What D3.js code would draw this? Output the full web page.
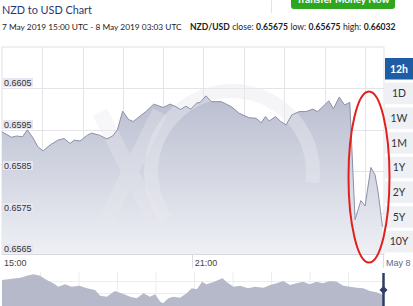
<!DOCTYPE html>
<html><head><meta charset="utf-8">
<script src="https://cdn.jsdelivr.net/npm/d3@7"></script>
<style>
html,body{margin:0;padding:0;background:#fff;}
svg{display:block;}
</style></head>
<body>
<svg id="c" width="413" height="306"></svg>
<script>
// ---------- data ----------
const titleText = "NZD to USD Chart";
const rangeText = "7 May 2019 15:00 UTC - 8 May 2019 03:03 UTC";
const statsParts = [["NZD/USD", true], ["close:", false], ["0.65675", true], ["low:", false], ["0.65675", true], ["high:", false], ["0.66032", true]];
const periodButtons = ["12h", "1D", "1W", "1M", "1Y", "2Y", "5Y", "10Y"];
const selectedPeriod = "12h";
const yTickValues = [0.6565, 0.6575, 0.6585, 0.6595, 0.6605];
const xTickLabels = ["15:00", "21:00", "May 8"];
const xTickMinutes = [0, 360, 723];
// minutes after 7 May 2019 15:00 UTC
const minutes = [0, 18, 28, 39, 48, 59, 68, 78, 91, 106, 118, 129, 137, 148, 162, 170, 185, 199, 210, 219, 229, 240, 249, 262, 273, 288, 306, 319, 328, 339, 349, 358, 370, 376, 387, 397, 416, 435, 450, 469, 482, 492, 500, 507, 519, 529, 539, 550, 564, 577, 590, 599, 609, 620, 629, 640, 650, 660, 670, 681, 689, 700, 708, 714, 722];
const rates = [0.65945, 0.65932, 0.65935, 0.65933, 0.65950, 0.65930, 0.65909, 0.65899, 0.65913, 0.65925, 0.65929, 0.65917, 0.65925, 0.65923, 0.65937, 0.65942, 0.65937, 0.65928, 0.65935, 0.65950, 0.65995, 0.65975, 0.65970, 0.65983, 0.65994, 0.66012, 0.66004, 0.66012, 0.66007, 0.65999, 0.66007, 0.66000, 0.66015, 0.66016, 0.66032, 0.66018, 0.66018, 0.66006, 0.65990, 0.65979, 0.65978, 0.65967, 0.65982, 0.65971, 0.65982, 0.65970, 0.65962, 0.65986, 0.65994, 0.65994, 0.66000, 0.65994, 0.66006, 0.66020, 0.66001, 0.66029, 0.66010, 0.66016, 0.65733, 0.65779, 0.65766, 0.65859, 0.65841, 0.65797, 0.65716];
// navigator (one year overview), week index and rate
const navWeeks = [0, 1.1, 2.5, 3.4, 4.3, 5.2, 6.1, 7.0, 7.7, 8.6, 9.5, 10.6, 11.6, 12.7, 13.4, 14.3, 15.4, 16.3, 17.5, 18.4, 19.3, 20.2, 20.9, 21.6, 22.0, 22.7, 23.4, 24.3, 25.2, 25.9, 26.6, 27.3, 27.9, 28.8, 29.5, 30.1, 30.7, 31.6, 32.5, 33.6, 34.5, 35.7, 36.6, 37.5, 38.4, 39.3, 40.2, 41.1, 42.0, 42.9, 43.8, 44.8, 45.7, 46.6, 47.5, 48.4, 49.3, 50.2, 51.1, 52];
const navRates = [0.6750, 0.6760, 0.6773, 0.6793, 0.6807, 0.6793, 0.6750, 0.6717, 0.6683, 0.6707, 0.6683, 0.6693, 0.6667, 0.6650, 0.6593, 0.6583, 0.6640, 0.6617, 0.6583, 0.6567, 0.6617, 0.6583, 0.6607, 0.6533, 0.6517, 0.6567, 0.6583, 0.6573, 0.6617, 0.6667, 0.6657, 0.6733, 0.6707, 0.6727, 0.6750, 0.6767, 0.6727, 0.6683, 0.6693, 0.6667, 0.6683, 0.6673, 0.6700, 0.6717, 0.6740, 0.6700, 0.6717, 0.6733, 0.6707, 0.6733, 0.6717, 0.6740, 0.6733, 0.6693, 0.6683, 0.6673, 0.6667, 0.6640, 0.6627, 0.6600];

// ---------- layout ----------
const svg = d3.select("#c");
const plot = {l: 2, r: 383, t: 47, b: 254};
const t0 = new Date(Date.UTC(2019, 4, 7, 15, 0));
const tAt = m => d3.utcMinute.offset(t0, m);
const x = d3.scaleUtc().domain([t0, tAt(723)]).range([plot.l, plot.r]);
const y = d3.scaleLinear().domain([0.6565, 0.6615]).range([plot.b, plot.t]);
const data = minutes.map((m, i) => ({t: tAt(m), v: rates[i]}));
const sansUI = "Lato, 'Open Sans', sans-serif";
const sansNarrow = "'Liberation Sans Narrow', Lato, sans-serif";

// fit a text's font size so its natural width equals target
function fitSize(sel, base, target) {
  sel.attr("font-size", base);
  const w = sel.node().getComputedTextLength();
  sel.attr("font-size", base * target / w);
}

const defs = svg.append("defs");
const grad = defs.append("linearGradient").attr("id", "ag")
  .attr("gradientUnits", "userSpaceOnUse").attr("x1", 0).attr("x2", 0).attr("y1", 95).attr("y2", plot.b);
grad.append("stop").attr("offset", 0).attr("stop-color", "#b9bdcf");
grad.append("stop").attr("offset", 1).attr("stop-color", "#eef0f5");

// header
const title = svg.append("text").attr("x", 2).attr("y", 13.5).text(titleText)
  .attr("font-family", sansUI).attr("fill", "#1d3a78");
fitSize(title, 14, 90);
svg.append("line").attr("x1", 271.5).attr("x2", 271.5).attr("y1", 0).attr("y2", 13).attr("stroke", "#e3e3e3");
svg.append("rect").attr("x", 291).attr("y", -8).attr("width", 104).attr("height", 17).attr("rx", 3).attr("fill", "#2fa61f");
svg.append("text").attr("x", 343).attr("y", 3).attr("text-anchor", "middle").text("Transfer Money Now")
  .attr("font-family", sansUI).attr("font-weight", "bold").attr("font-size", 10).attr("fill", "#fff");

const sub = svg.append("text").attr("x", 2).attr("y", 30).text(rangeText)
  .attr("font-family", sansNarrow).attr("fill", "#222");
fitSize(sub, 10.5, 180);

// stats: separate text pieces laid out left to right over 190..396
const stG = svg.append("g");
const pieces = statsParts.map(([s, b]) => stG.append("text").text(s)
  .attr("font-family", sansNarrow).attr("font-size", 10.5).attr("fill", "#222")
  .attr("font-weight", b ? "bold" : "normal").attr("y", 30));
const gap = 3;
let widths = pieces.map(p => p.node().getComputedTextLength());
const k = 206 / (d3.sum(widths) + gap * (pieces.length - 1));
pieces.forEach(p => p.attr("font-size", 10.5 * k));
widths = pieces.map(p => p.node().getComputedTextLength());
let cx = 190;
pieces.forEach((p, i) => { p.attr("x", cx); cx += widths[i] + gap * k; });

// plot background and grid
svg.append("rect").attr("x", plot.l).attr("y", plot.t).attr("width", plot.r - plot.l + 1).attr("height", plot.b - plot.t)
  .attr("fill", "#fff").attr("stroke", "#e2e2e6");
const gridMins = d3.range(1, 10).map(i => i * 76.5);
svg.append("g").selectAll("line").data(gridMins).join("line")
  .attr("x1", d => Math.round(x(tAt(d))) + 0.5).attr("x2", d => Math.round(x(tAt(d))) + 0.5)
  .attr("y1", plot.t).attr("y2", plot.b).attr("stroke", "#e4e4e8");
svg.append("g").selectAll("line").data(yTickValues).join("line")
  .attr("x1", plot.l).attr("x2", plot.r + 1)
  .attr("y1", d => Math.round(y(d)) + 0.5).attr("y2", d => Math.round(y(d)) + 0.5).attr("stroke", "#e4e4e8");

// area
const area = d3.area().x(d => x(d.t)).y0(plot.b).y1(d => y(d.v));
const line = d3.line().x(d => x(d.t)).y(d => y(d.v));
svg.append("path").datum(data).attr("d", area).attr("fill", "url(#ag)");

// watermark (faint xe logo)
const wm = svg.append("g").attr("fill", "none").attr("stroke", "#e8e9ef").attr("stroke-width", 16);
wm.append("path").attr("d", d3.arc()({innerRadius: 74, outerRadius: 88, startAngle: -2.2, endAngle: 1.7}))
  .attr("transform", "translate(232,172)").attr("fill", "#e8e9ef").attr("stroke", "none").attr("fill-opacity", 0.45);
wm.append("path").attr("d", "M100,112 L160,232 M160,112 L100,232").attr("stroke-opacity", 0.35);

svg.append("path").datum(data).attr("d", line).attr("fill", "none").attr("stroke", "#8a90a8").attr("stroke-width", 1);

// y labels
const yl = svg.append("g");
yTickValues.forEach(v => {
  const yy = Math.round(y(v));
  yl.append("rect").attr("x", 3).attr("y", yy - 10).attr("width", 30).attr("height", 9).attr("fill", "#e6e6f0");
  yl.append("text").attr("x", 4).attr("y", yy - 2).text(v.toFixed(4))
    .attr("font-family", "'Liberation Sans', Arial, sans-serif").attr("font-size", 9).attr("fill", "#333");
});

// x axis band
svg.append("rect").attr("x", 0).attr("y", plot.b + 1).attr("width", plot.r + 1).attr("height", 13).attr("fill", "#fff");
svg.append("line").attr("x1", plot.l).attr("x2", plot.r + 1).attr("y1", plot.b + 0.5).attr("y2", plot.b + 0.5).attr("stroke", "#d8d8de");
const xg = svg.append("g");
xTickMinutes.forEach((m, i) => {
  const xx = x(tAt(m));
  if (i > 0) xg.append("line").attr("x1", Math.round(xx) + 0.5).attr("x2", Math.round(xx) + 0.5)
    .attr("y1", plot.b).attr("y2", plot.b + 14).attr("stroke", "#dcdce2");
  xg.append("text").attr("x", i === 0 ? xx + 2 : xx + 3).attr("y", 266).text(xTickLabels[i])
    .attr("font-family", "'Liberation Sans', Arial, sans-serif").attr("font-size", 9)
    .attr("fill", i === 2 ? "#5b6a8c" : "#444");
});

// period buttons
const bg = svg.append("g");
periodButtons.forEach((p, i) => {
  const yy = 58 + i * 24.7;
  const sel = p === selectedPeriod;
  bg.append("rect").attr("x", 385).attr("y", yy).attr("width", 28).attr("height", 21.5)
    .attr("fill", sel ? "#1e5ca6" : "#eef0f3");
  bg.append("text").attr("x", 399).attr("y", yy + 14.5).attr("text-anchor", "middle").text(p)
    .attr("font-family", sansUI).attr("font-size", 10.5)
    .attr("font-weight", sel ? "bold" : "normal").attr("fill", sel ? "#fff" : "#333");
});

// red annotation ellipse
svg.append("ellipse").attr("cx", 369).attr("cy", 177).attr("rx", 20.5).attr("ry", 85.5)
  .attr("fill", "none").attr("stroke", "#e0201c").attr("stroke-width", 2);

// navigator
const nx = d3.scaleLinear().domain([0, 52]).range([plot.l, plot.r]);
const ny = d3.scaleLinear().domain([0.650, 0.683]).range([305, 272]);
const ng = svg.append("g");
d3.range(1, 10).forEach(i => ng.append("line").attr("x1", plot.l + i * 38.5).attr("x2", plot.l + i * 38.5)
  .attr("y1", 272).attr("y2", 305).attr("stroke", "#ededf0"));
[281, 293].forEach(v => ng.append("line").attr("x1", plot.l).attr("x2", plot.r).attr("y1", v + 0.5).attr("y2", v + 0.5).attr("stroke", "#ededf0"));
const navData = navWeeks.map((w, i) => ({w, v: navRates[i]}));
ng.append("path").datum(navData)
  .attr("d", d3.area().x(d => nx(d.w)).y0(306).y1(d => ny(d.v)))
  .attr("fill", "#b5b9ca");
ng.append("line").attr("x1", 383.5).attr("x2", 383.5).attr("y1", 273).attr("y2", 306).attr("stroke", "#2d3f66").attr("stroke-width", 2.5);
ng.append("path").attr("d", "M383.5,286 L387.5,290 L383.5,294 L379.5,290 Z").attr("fill", "#2d3f66");
</script>
</body></html>
